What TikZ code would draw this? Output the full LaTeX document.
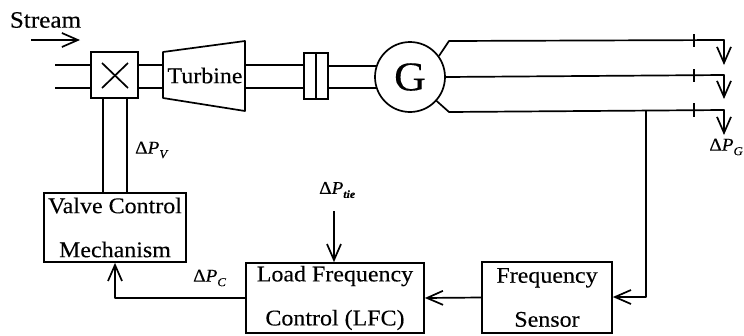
\documentclass[tikz,border=0pt]{standalone}
\usepackage{fontspec}
\setmainfont{Liberation Serif}[FakeStretch=1.07,FakeBold=0.25]
\usetikzlibrary{arrows.meta}
\newcommand\dP[1]{\fontsize{18}{18}\selectfont Δ\textit{P}\raisebox{-4.5pt}{\fontsize{12}{12}\selectfont\textit{#1}}}
\tikzset{
 line/.style={line width=1.7pt,line join=round},
 arr/.style={line,-{Straight Barb[length=16pt,width=14pt,line width=1.7pt]}},
 blockbox/.style={draw,line width=1.7pt,inner sep=0pt,align=center,font=\fontsize{22.4}{44}\selectfont},
 lab/.style={inner sep=0pt}
}
\begin{document}
\begin{tikzpicture}[x=1pt,y=-1pt]
\useasboundingbox (0,0) rectangle (744,335);
% free ends
\coordinate (s1) at (31,40); \coordinate (s2) at (80,40);
\coordinate (i1) at (55,65); \coordinate (i2) at (55,88);
\coordinate (t1) at (163,52); \coordinate (t2) at (245,41); \coordinate (t3) at (245,111); \coordinate (t4) at (163,98);
\coordinate (g1b) at (449,41); \coordinate (g1c) at (724,40); \coordinate (g1d) at (724,65);
\coordinate (g2c) at (724,75); \coordinate (g2d) at (724,99);
\coordinate (g3b) at (449,112); \coordinate (g3c) at (724,110); \coordinate (g3d) at (724,135);
\coordinate (br) at (646,111); \coordinate (brb) at (646,297);
\coordinate (tie) at (334,211);
\coordinate (vs1) at (103,98); \coordinate (vs2) at (127,98);
% blocks
\node[blockbox,minimum width=47pt,minimum height=46pt] (valve) at (114.5,75) {};
\node[blockbox,minimum width=24pt,minimum height=46pt] (coup) at (316,76) {};
\node[draw,circle,line width=1.7pt,minimum size=70pt,inner sep=0pt,font=\fontsize{41}{41}\selectfont] (gen) at (410,77) {G};
\node[blockbox,minimum width=142pt,minimum height=69pt] (vcm) at (115,227.5) {Valve Control\\Mechanism};
\node[blockbox,minimum width=178pt,minimum height=70pt] (lfc) at (335,298) {Load Frequency\\Control (LFC)};
\node[blockbox,minimum width=130pt,minimum height=71pt] (fs) at (547,297.5) {Frequency\\Sensor};
\node[lab,font=\fontsize{22.4}{22}\selectfont] (turb) at (205,75.5) {Turbine};
\draw[line] (t1)--(t2)--(t3)--(t4)--cycle;
% valve X, coupling mid line
\draw[line] (102,63)--(128,88) (128,63)--(102,88);
\draw[line] (coup.north)--(coup.south);
% pipes
\draw[line] (i1)--(valve.west |- i1) (i2)--(valve.west |- i2);
\draw[line] (valve.east |- i1)--(t1 |- i1) (valve.east |- i2)--(t1 |- i2);
\draw[line] (t2 |- i1)--(coup.west |- i1) (t2 |- i2)--(coup.west |- i2);
\draw[line] (coup.east |- gen.162)--(gen.162);
\draw[line] (coup.east |- gen.198)--(gen.198);
% stems
\draw[line] (vs1)--(vcm.north -| vs1) (vs2)--(vcm.north -| vs2);
% stream arrow
\draw[arr] (s1)--(s2);
% buses
\draw[arr] (gen.36)--(g1b)--(g1c)--(g1d);
\draw[arr] (gen.east)--(g2c)--(g2d);
\draw[arr] (gen.-42)--(g3b)--(g3c)--(g3d);
\draw[line] (694,34)--(694,47) (694,69)--(694,82) (694,103)--(694,117);
% feedback
\draw[arr] (br)--(brb)--(fs.east |- brb);
\draw[arr] (fs.west)--(lfc.east);
\draw[arr] (lfc.west |- 0,298)--(115,298)--(vcm.south);
\draw[arr] (tie)--(lfc.north -| tie);
% labels
\node[lab,font=\fontsize{23.5}{22}\selectfont] (st) at (45.5,20) {Stream};
\node[lab,anchor=west] (lv) at (135,150) {\dP{V}};
\node[lab,anchor=east] (lg) at (743,147) {\dP{G}};
\node[lab,anchor=west] (lc) at (193,278) {\dP{C}};
\node[lab,anchor=west] (lt) at (319,190) {\fontsize{18}{18}\selectfont Δ\textit{P}\raisebox{-4pt}{\fontsize{11}{11}\selectfont\textbf{\textit{tie}}}};
\end{tikzpicture}
\end{document}
